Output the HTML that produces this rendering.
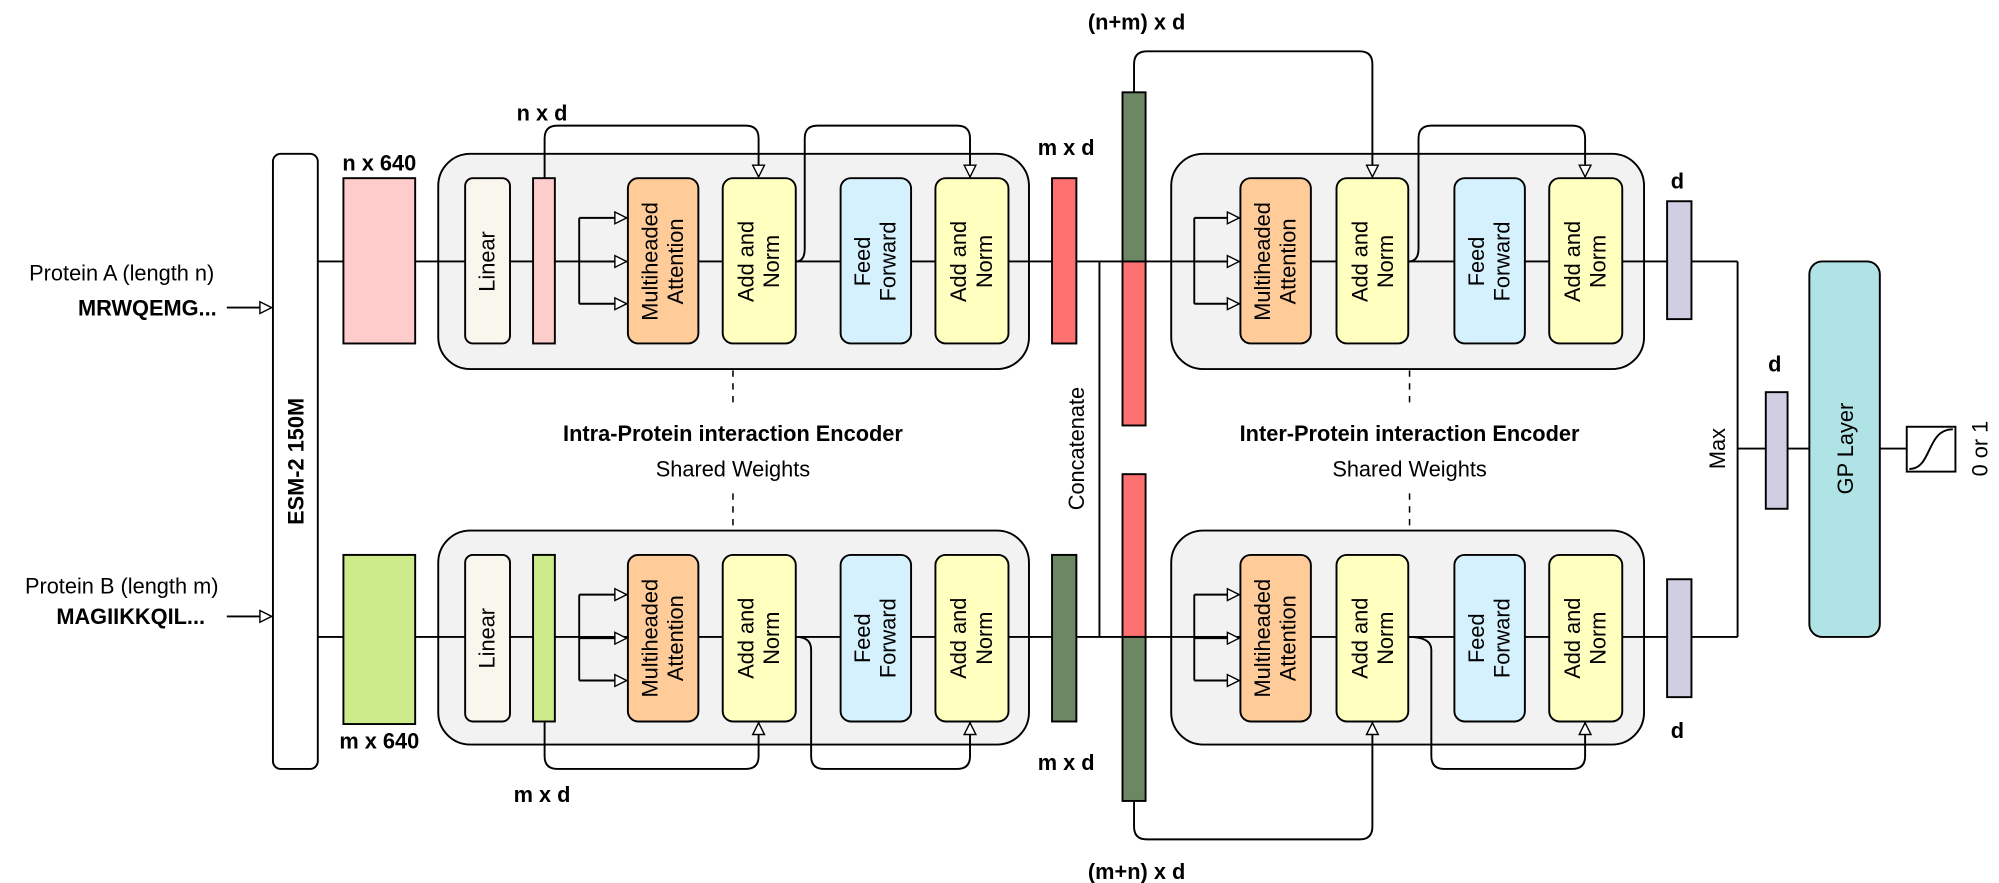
<!DOCTYPE html>
<html><head><meta charset="utf-8"><style>html,body{margin:0;padding:0;background:#fff}svg{display:block}</style></head>
<body>
<svg width="1999" height="883" viewBox="0 0 1560 689" xmlns="http://www.w3.org/2000/svg" font-family="Liberation Sans, Arial, sans-serif">
<defs>
<marker id="ar" viewBox="0 0 12 12" refX="11" refY="6" markerWidth="11" markerHeight="11" markerUnits="userSpaceOnUse" orient="auto">
<path d="M1,1 L11,6 L1,11 Z" fill="#fff" stroke="#000" stroke-width="1.2"/>
</marker>
</defs>
<g stroke="#000" stroke-width="1.5" fill="none">
<!-- main lines -->
<line x1="248" y1="204" x2="1356" y2="204"/>
<line x1="248" y1="497" x2="1356" y2="497"/>
<line x1="1356" y1="204" x2="1356" y2="497"/>
<line x1="858" y1="204" x2="858" y2="497"/>
<line x1="1356" y1="350" x2="1412" y2="350"/>
<line x1="1467" y1="350" x2="1488" y2="350"/>
<!-- input arrows -->
<line x1="177" y1="240" x2="212" y2="240" marker-end="url(#ar)"/>
<line x1="177" y1="481" x2="212" y2="481" marker-end="url(#ar)"/>
</g>
<!-- encoder backgrounds -->
<g stroke="#000" stroke-width="1.5" fill="#f2f2f2">
<rect x="342" y="120" width="461" height="168" rx="25"/>
<rect x="342" y="414" width="461" height="167" rx="25"/>
<rect x="914" y="120" width="369" height="168" rx="25"/>
<rect x="914" y="414" width="369" height="167" rx="25"/>
</g>
<g stroke="#000" stroke-width="1.5" fill="none">
<line x1="342" y1="204" x2="803" y2="204"/>
<line x1="342" y1="497" x2="803" y2="497"/>
<line x1="914" y1="204" x2="1283" y2="204"/>
<line x1="914" y1="497" x2="1283" y2="497"/>
<!-- 3-way arrows -->
<path d="M452,204 H489" marker-end="url(#ar)"/><path d="M452,170 V237"/><path d="M452,170 H489" marker-end="url(#ar)"/><path d="M452,237 H489" marker-end="url(#ar)"/>
<path d="M452,498 H489" marker-end="url(#ar)"/><path d="M452,464 V531"/><path d="M452,464 H489" marker-end="url(#ar)"/><path d="M452,531 H489" marker-end="url(#ar)"/>
<path d="M932,204 H967" marker-end="url(#ar)"/><path d="M932,170 V237"/><path d="M932,170 H967" marker-end="url(#ar)"/><path d="M932,237 H967" marker-end="url(#ar)"/>
<path d="M932,498 H967" marker-end="url(#ar)"/><path d="M932,464 V531"/><path d="M932,464 H967" marker-end="url(#ar)"/><path d="M932,531 H967" marker-end="url(#ar)"/>
<!-- skip connections top -->
<path d="M425,139 V108 Q425,98 435,98 H582 Q592,98 592,108 V138" marker-end="url(#ar)"/>
<path d="M621,204 Q628,204 628,194 V108 Q628,98 638,98 H747 Q757,98 757,108 V138" marker-end="url(#ar)"/>
<path d="M885,72 V50 Q885,40 895,40 H1061 Q1071,40 1071,50 V138" marker-end="url(#ar)"/>
<path d="M1099,204 Q1107,204 1107,194 V108 Q1107,98 1117,98 H1227 Q1237,98 1237,108 V138" marker-end="url(#ar)"/>
<!-- skip bottom -->
<path d="M425,563 V590 Q425,600 435,600 H582 Q592,600 592,590 V564" marker-end="url(#ar)"/>
<path d="M621,497 Q633,497 633,507 V590 Q633,600 643,600 H747 Q757,600 757,590 V564" marker-end="url(#ar)"/>
<path d="M885,625 V645 Q885,655 895,655 H1061 Q1071,655 1071,645 V564" marker-end="url(#ar)"/>
<path d="M1099,497 Q1117,497 1117,507 V590 Q1117,600 1127,600 H1227 Q1237,600 1237,590 V564" marker-end="url(#ar)"/>
<!-- dashed -->
<g stroke-dasharray="5,5" stroke-width="1.2"><line x1="572" y1="289" x2="572" y2="318"/><line x1="572" y1="385" x2="572" y2="413"/><line x1="1100" y1="289" x2="1100" y2="318"/><line x1="1100" y1="385" x2="1100" y2="413"/></g>
</g>
<!-- blocks -->
<g stroke="#000" stroke-width="1.5">
<rect x="213" y="120" width="35" height="480" rx="6" fill="#fff"/>
<rect x="268" y="139" width="56" height="129" fill="#ffcccc"/>
<rect x="268" y="433" width="56" height="132" fill="#cdeb8b"/>
<rect x="363" y="139" width="35" height="129" rx="6" fill="#f9f7ed"/>
<rect x="363" y="433" width="35" height="130" rx="6" fill="#f9f7ed"/>
<rect x="416" y="139" width="17" height="129" fill="#ffcccc"/>
<rect x="416" y="433" width="17" height="130" fill="#cdeb8b"/>
<rect x="490" y="139" width="55" height="129" rx="8" fill="#ffcc99"/>
<rect x="490" y="433" width="55" height="130" rx="8" fill="#ffcc99"/>
<rect x="564" y="139" width="57" height="129" rx="8" fill="#ffffc0"/>
<rect x="564" y="433" width="57" height="130" rx="8" fill="#ffffc0"/>
<rect x="656" y="139" width="55" height="129" rx="8" fill="#d4f1fd"/>
<rect x="656" y="433" width="55" height="130" rx="8" fill="#d4f1fd"/>
<rect x="730" y="139" width="57" height="129" rx="8" fill="#ffffc0"/>
<rect x="730" y="433" width="57" height="130" rx="8" fill="#ffffc0"/>
<rect x="821" y="139" width="19" height="129" fill="#ff7070"/>
<rect x="821" y="433" width="19" height="130" fill="#6d8764"/>
<rect x="876" y="72" width="18" height="132" fill="#6d8764"/>
<rect x="876" y="204" width="18" height="128" fill="#ff7070"/>
<rect x="876" y="370" width="18" height="127" fill="#ff7070"/>
<rect x="876" y="497" width="18" height="128" fill="#6d8764"/>
<rect x="968" y="139" width="55" height="129" rx="8" fill="#ffcc99"/>
<rect x="968" y="433" width="55" height="130" rx="8" fill="#ffcc99"/>
<rect x="1043" y="139" width="56" height="129" rx="8" fill="#ffffc0"/>
<rect x="1043" y="433" width="56" height="130" rx="8" fill="#ffffc0"/>
<rect x="1135" y="139" width="55" height="129" rx="8" fill="#d4f1fd"/>
<rect x="1135" y="433" width="55" height="130" rx="8" fill="#d4f1fd"/>
<rect x="1209" y="139" width="57" height="129" rx="8" fill="#ffffc0"/>
<rect x="1209" y="433" width="57" height="130" rx="8" fill="#ffffc0"/>
<rect x="1301" y="157" width="19" height="92" fill="#d0cee2"/>
<rect x="1301" y="452" width="19" height="92" fill="#d0cee2"/>
<rect x="1378" y="306" width="17" height="91" fill="#d0cee2"/>
<rect x="1412" y="204" width="55" height="293" rx="10" fill="#b0e3e6"/>
<rect x="1488" y="333" width="38" height="35" fill="#fff"/>
<path d="M1490,366 C1508,366 1503,335 1524,335" fill="none"/>
</g>
<!-- text -->
<g font-size="17" fill="#000">
<text x="95" y="219" text-anchor="middle">Protein A (length n)</text>
<text x="115" y="246" text-anchor="middle" font-weight="bold">MRWQEMG...</text>
<text x="95" y="463" text-anchor="middle">Protein B (length m)</text>
<text x="102" y="487" text-anchor="middle" font-weight="bold">MAGIIKKQIL...</text>
<text transform="translate(237,360) rotate(-90)" text-anchor="middle" font-weight="bold">ESM-2 150M</text>
<g font-weight="bold" text-anchor="middle">
<text x="296" y="133">n x 640</text>
<text x="296" y="584">m x 640</text>
<text x="423" y="94">n x d</text>
<text x="423" y="626">m x d</text>
<text x="832" y="121">m x d</text>
<text x="832" y="601">m x d</text>
<text x="887" y="23">(n+m) x d</text>
<text x="887" y="686">(m+n) x d</text>
<text x="1309" y="147">d</text>
<text x="1309" y="576">d</text>
<text x="1385" y="290">d</text>
<text x="572" y="344">Intra-Protein interaction Encoder</text>
<text x="1100" y="344">Inter-Protein interaction Encoder</text>
</g>
<text x="572" y="372" text-anchor="middle">Shared Weights</text>
<text x="1100" y="372" text-anchor="middle">Shared Weights</text>
<g text-anchor="middle">
<text transform="translate(386,204) rotate(-90)">Linear</text>
<text transform="translate(386,498) rotate(-90)">Linear</text>
<text transform="translate(517,204) rotate(-90)"><tspan x="0" y="-4">Multiheaded</tspan><tspan x="0" y="16">Attention</tspan></text>
<text transform="translate(517,498) rotate(-90)"><tspan x="0" y="-4">Multiheaded</tspan><tspan x="0" y="16">Attention</tspan></text>
<text transform="translate(592,204) rotate(-90)"><tspan x="0" y="-4">Add and</tspan><tspan x="0" y="16">Norm</tspan></text>
<text transform="translate(592,498) rotate(-90)"><tspan x="0" y="-4">Add and</tspan><tspan x="0" y="16">Norm</tspan></text>
<text transform="translate(683,204) rotate(-90)"><tspan x="0" y="-4">Feed</tspan><tspan x="0" y="16">Forward</tspan></text>
<text transform="translate(683,498) rotate(-90)"><tspan x="0" y="-4">Feed</tspan><tspan x="0" y="16">Forward</tspan></text>
<text transform="translate(758,204) rotate(-90)"><tspan x="0" y="-4">Add and</tspan><tspan x="0" y="16">Norm</tspan></text>
<text transform="translate(758,498) rotate(-90)"><tspan x="0" y="-4">Add and</tspan><tspan x="0" y="16">Norm</tspan></text>
<text transform="translate(995,204) rotate(-90)"><tspan x="0" y="-4">Multiheaded</tspan><tspan x="0" y="16">Attention</tspan></text>
<text transform="translate(995,498) rotate(-90)"><tspan x="0" y="-4">Multiheaded</tspan><tspan x="0" y="16">Attention</tspan></text>
<text transform="translate(1071,204) rotate(-90)"><tspan x="0" y="-4">Add and</tspan><tspan x="0" y="16">Norm</tspan></text>
<text transform="translate(1071,498) rotate(-90)"><tspan x="0" y="-4">Add and</tspan><tspan x="0" y="16">Norm</tspan></text>
<text transform="translate(1162,204) rotate(-90)"><tspan x="0" y="-4">Feed</tspan><tspan x="0" y="16">Forward</tspan></text>
<text transform="translate(1162,498) rotate(-90)"><tspan x="0" y="-4">Feed</tspan><tspan x="0" y="16">Forward</tspan></text>
<text transform="translate(1237,204) rotate(-90)"><tspan x="0" y="-4">Add and</tspan><tspan x="0" y="16">Norm</tspan></text>
<text transform="translate(1237,498) rotate(-90)"><tspan x="0" y="-4">Add and</tspan><tspan x="0" y="16">Norm</tspan></text>
<text transform="translate(846,350) rotate(-90)">Concatenate</text>
<text transform="translate(1346,350) rotate(-90)">Max</text>
<text transform="translate(1446,350) rotate(-90)">GP Layer</text>
<text transform="translate(1551,350) rotate(-90)">0 or 1</text>
</g>
</g>
</svg>
</body></html>
